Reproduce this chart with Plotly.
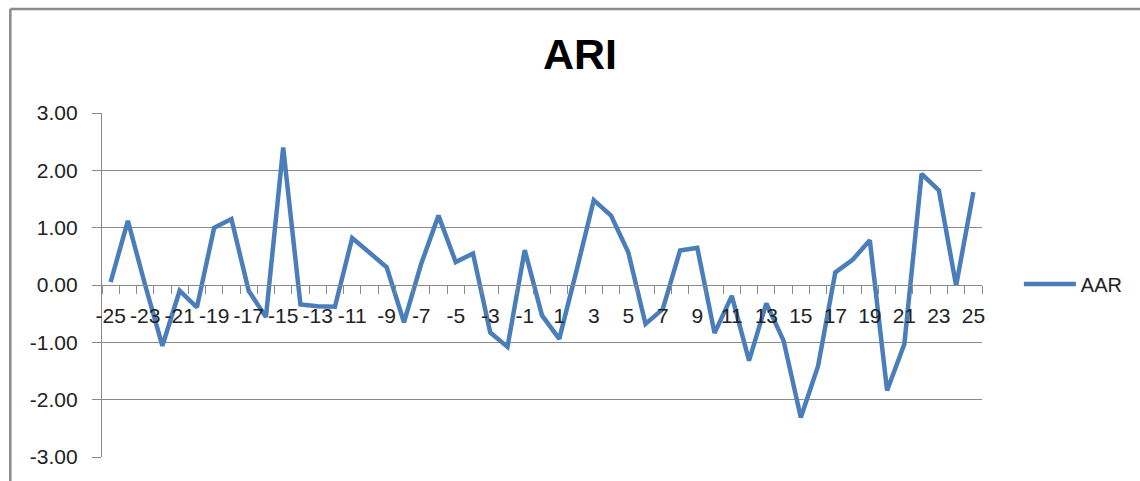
import plotly.graph_objects as go

days = list(range(-25, 26))
aar = [0.05, 1.12, 0.00, -1.06, -0.10, -0.39, 1.00, 1.15, -0.10, -0.56,
       2.40, -0.34, -0.37, -0.38, 0.82, 0.57, 0.31, -0.65, 0.37, 1.21,
       0.40, 0.55, -0.83, -1.08, 0.61, -0.53, -0.94, 0.25, 1.48, 1.21,
       0.57, -0.68, -0.42, 0.60, 0.65, -0.84, -0.19, -1.32, -0.32, -0.97,
       -2.31, -1.41, 0.22, 0.44, 0.78, -1.84, -1.03, 1.94, 1.65, -0.01, 1.62]
x_ticks = list(range(-25, 26, 2))
y_ticks = [3, 2, 1, 0, -1, -2, -3]
y_labels = ["3.00", "2.00", "1.00", "0.00", "-1.00", "-2.00", "-3.00"]

W, H = 1140, 481
L, R, T, B = 102, 155, 113, 24
pw, ph = W - L - R, H - T - B

def px(v):
    return (v - L) / pw

def py(v):
    return (H - B - v) / ph

GRAY = "#8a8a8a"
FONT = "Liberation Sans, Arial, sans-serif"

fig = go.Figure()
fig.add_trace(go.Scatter(x=days, y=aar, mode="lines", name="AAR",
                         line=dict(color="#4a7ebb", width=4.5)))

fig.update_layout(
    width=W, height=H,
    margin=dict(l=L, r=R, t=T, b=B),
    paper_bgcolor="white", plot_bgcolor="white",
    font=dict(family=FONT, color="#222222"),
    title=dict(text="<b>ARI</b>", x=580 / W, xanchor="center",
               y=1 - 54 / H, yanchor="middle",
               font=dict(size=43, color="black", family=FONT)),
    showlegend=True,
    legend=dict(x=px(1022), y=py(284), xanchor="left", yanchor="middle",
                itemwidth=52,
                font=dict(size=20, color="#222222"), bgcolor="rgba(0,0,0,0)"),
    xaxis=dict(range=[-25.5, 25.5], tickmode="array", tickvals=x_ticks,
               ticktext=[str(v) for v in x_ticks], tickangle=0,
               ticks="", showgrid=False, zeroline=False,
               showline=True, linecolor=GRAY, linewidth=1,
               anchor="free", position=0.5,
               tickfont=dict(size=21, color="#222222"),
               ticklabelstandoff=12,
               minor=dict(tickmode="linear", tick0=-25.5, dtick=1,
                          ticks="outside", ticklen=8, tickcolor=GRAY,
                          tickwidth=1, showgrid=False)),
    yaxis=dict(range=[-3, 3], tickmode="array", tickvals=y_ticks,
               ticktext=y_labels, showgrid=True, gridcolor=GRAY,
               gridwidth=1.3, zeroline=False, showline=True,
               linecolor=GRAY, linewidth=1.3, ticks="outside", ticklen=9,
               tickcolor=GRAY, tickfont=dict(size=21, color="#222222"),
               ticklabelstandoff=10),
    shapes=[
        dict(type="line", xref="paper", yref="paper",
             x0=px(10), x1=px(1150), y0=py(9), y1=py(9),
             line=dict(color=GRAY, width=2.5)),
        dict(type="line", xref="paper", yref="paper",
             x0=px(10), x1=px(10), y0=py(9), y1=py(490),
             line=dict(color=GRAY, width=2.5)),
    ],
)

fig.write_html("out.html", config={"displayModeBar": False},
               post_script="document.body.style.margin='0';document.body.style.overflow='hidden';")
